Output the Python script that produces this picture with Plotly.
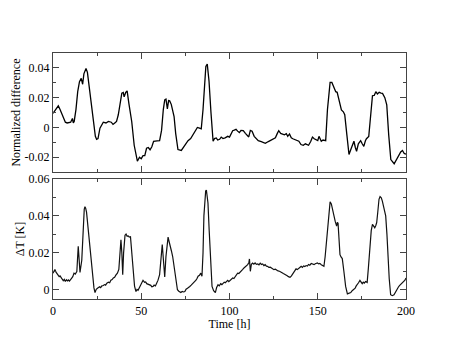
import plotly.graph_objects as go
from plotly.subplots import make_subplots

# Readings (time [h], value) taken off the original figure
top_readings = [
    (0, 0.0095), (1, 0.011), (2, 0.013), (3, 0.0145), (4, 0.012), (5, 0.009), (6, 0.006),
    (7, 0.0035), (8, 0.003), (9, 0.0035), (10, 0.0035), (11, 0.006), (11.5, 0.003), (12, 0.004),
    (13, 0.012), (14, 0.024), (15, 0.0307), (16, 0.033), (16.8, 0.029), (17.5, 0.036),
    (18.7, 0.0396), (19.5, 0.037), (21, 0.023), (22, 0.012), (22.9, 0.004), (24, -0.006),
    (24.7, -0.008), (25.5, -0.0075), (26.6, -0.0005), (28.5, 0.0035), (30, 0.003), (31.4, 0.004),
    (33, 0.0035), (34, 0.002), (35, 0.003), (36, 0.004), (37, 0.0085), (38, 0.016), (39, 0.023),
    (39.8, 0.0235), (40.3, 0.0205), (41.2, 0.0235), (42, 0.0245), (43, 0.016), (44.6, 0.004),
    (46, -0.012), (47.8, -0.0227), (49, -0.020), (50, -0.021), (51, -0.019), (52, -0.019),
    (53, -0.014), (54, -0.0135), (55, -0.015), (56, -0.013), (57, -0.0093), (58, -0.009),
    (59, -0.009), (60.4, -0.0089), (61.5, -0.002), (62.5, 0.012), (63.3, 0.0185), (64, 0.019),
    (64.8, 0.0125), (65.5, 0.018), (66.1, 0.0178), (67, 0.0155), (68.6, 0.0073), (69.5, -0.004),
    (70.8, -0.0149), (72.7, -0.0155), (74, -0.013), (75, -0.011), (76.5, -0.0089), (78, -0.0075),
    (79.3, -0.0049), (80.5, -0.002), (81.8, 0.0), (83, -0.0005), (84, -0.001), (85, 0.012),
    (86, 0.0285), (86.6, 0.041), (87.4, 0.0425), (88.4, 0.031), (89.5, 0.010), (90.7, -0.0093),
    (91.5, -0.0075), (92.5, -0.0071), (93.3, -0.0085), (94.4, -0.008), (95.3, -0.0065),
    (96.3, -0.0075), (97.5, -0.007), (99, -0.006), (100, -0.0065), (101.8, -0.0022),
    (102.7, -0.0018), (103.7, -0.0013), (104.6, -0.0025), (105.6, -0.0035), (106.5, -0.002),
    (107.8, -0.0022), (109, -0.004), (110.9, -0.0064), (111.8, -0.002), (112.8, -0.0026),
    (114, -0.006), (115, -0.0075), (116.3, -0.0089), (118, -0.0095), (120.3, -0.0107),
    (122, -0.0095), (124.5, -0.0076), (126, -0.007), (127.1, -0.004), (127.9, -0.0022),
    (129, -0.004), (130, -0.0045), (131.1, -0.005), (132.2, -0.0042), (133, -0.006),
    (134, -0.0044), (135, -0.007), (135.9, -0.0076), (137.5, -0.0085), (139.3, -0.0093),
    (140.5, -0.0115), (141.8, -0.012), (143, -0.011), (144.8, -0.012), (146, -0.0095),
    (147, -0.0065), (148, -0.0076), (149, -0.0082), (150, -0.0089), (150.7, -0.006),
    (151.5, -0.0085), (152, -0.0093), (153, -0.0085), (154.5, -0.0089), (155.5, 0.012),
    (157, 0.0302), (158, 0.0302), (159, 0.027), (160.2, 0.024), (161, 0.0236), (162, 0.018),
    (163.4, 0.0118), (164.5, 0.0105), (165.3, 0.0085), (166.5, -0.005), (167.7, -0.0182),
    (169, -0.014), (170.5, -0.0093), (171.3, -0.0135), (172, -0.016), (173, -0.011),
    (174.3, -0.0089), (175.2, -0.011), (176.1, -0.0127), (177, -0.009), (177.6, -0.0076),
    (178.9, -0.006), (180, 0.008), (181, 0.0213), (182, 0.0215), (182.9, 0.024), (183.8, 0.0225),
    (184.8, 0.0236), (185.8, 0.023), (186.7, 0.0229), (188, 0.020), (189.1, 0.0151),
    (190.2, -0.005), (191.4, -0.0216), (193.3, -0.0244), (194.5, -0.022), (196.1, -0.0182),
    (197, -0.0165), (198, -0.0155), (199, -0.0175), (200, -0.018),
]

bottom_readings = [
    (0, 0.009), (0.5, 0.0098), (1.1, 0.011), (1.7, 0.0095), (2.3, 0.0088), (3, 0.0082),
    (3.5, 0.0071), (4, 0.0075), (4.6, 0.0062), (5.2, 0.0058), (5.8, 0.0049), (6.4, 0.0056),
    (7, 0.0045), (7.6, 0.0054), (8.2, 0.0048), (8.7, 0.0053), (9.3, 0.0047), (9.9, 0.0058),
    (10.5, 0.0062), (11.2, 0.0071), (11.9, 0.009), (12.6, 0.0085), (13.5, 0.0098), (14.3, 0.0236),
    (14.8, 0.018), (15.3, 0.0094), (16.3, 0.016), (17.2, 0.038), (17.7, 0.0435), (18.1, 0.045),
    (18.5, 0.0442), (19, 0.042), (19.8, 0.034), (20.6, 0.0254), (21.5, 0.016), (22.5, 0.0073),
    (23.2, 0.001), (23.8, -0.0015), (24.5, 0.0002), (25.2, 0.0008), (25.7, 0.001), (26.4, 0.0016),
    (27, 0.0012), (27.7, 0.0021), (28.5, 0.0023), (29.2, 0.0028), (29.8, 0.0025), (30.5, 0.0036),
    (31.4, 0.0041), (32.1, 0.0038), (32.8, 0.0052), (33.5, 0.0055), (34.2, 0.0064),
    (34.9, 0.0068), (35.6, 0.0079), (36.5, 0.009), (37.3, 0.011), (37.9, 0.018), (38.5, 0.027),
    (39, 0.02), (39.5, 0.0082), (40, 0.02), (40.8, 0.0295), (41.4, 0.0302), (42, 0.029),
    (42.6, 0.0292), (43.2, 0.0285), (43.9, 0.0287), (44.6, 0.02), (45.5, 0.0073), (46.2, 0.002),
    (47, -0.001), (47.6, 0.0002), (48.2, -0.0003), (48.9, 0.001), (49.5, 0.0018), (50.2, 0.0029),
    (51, 0.0051), (51.9, 0.004), (52.5, 0.0042), (53.1, 0.0033), (53.8, 0.0031), (54.7, 0.0027),
    (55.4, 0.0024), (56, 0.0016), (56.7, 0.0018), (57.3, 0.0025), (58, 0.0021), (58.6, 0.0033),
    (59.5, 0.0052), (60.4, 0.0082), (61.2, 0.015), (61.9, 0.0245), (62.5, 0.017), (63.3, 0.0069),
    (64, 0.018), (64.6, 0.026), (65.2, 0.0285), (65.8, 0.026), (66.5, 0.024), (67.1, 0.021),
    (67.8, 0.018), (68.4, 0.0143), (69.5, 0.006), (70.5, 0.0), (71.3, -0.0008), (72, -0.0012),
    (72.4, -0.0015), (73.2, -0.0009), (74, -0.0012), (74.7, -0.001), (75.4, 0.0003),
    (76.2, 0.0008), (77, 0.0012), (77.5, 0.0018), (78.3, 0.0025), (79, 0.0031), (79.7, 0.0036),
    (80.3, 0.0045), (81, 0.0052), (81.6, 0.0061), (82.2, 0.0073), (83, 0.0078), (83.7, 0.009),
    (84.4, 0.0073), (85, 0.02), (85.5, 0.04), (86, 0.051), (86.5, 0.0535), (86.9, 0.054),
    (87.3, 0.049), (87.8, 0.047), (88.5, 0.032), (89.2, 0.015), (90.1, 0.0018), (91, -0.0005),
    (92, -0.0015), (92.7, 0.0012), (93.5, 0.0027), (94.2, 0.0021), (95, 0.0033), (95.7, 0.0028),
    (96.3, 0.0036), (97, 0.0041), (97.6, 0.0038), (98.2, 0.0045), (99, 0.0051), (99.6, 0.0044),
    (100.3, 0.0052), (101, 0.0058), (101.8, 0.0064), (102.5, 0.0061), (103.2, 0.0073),
    (103.9, 0.0079), (104.6, 0.009), (105.3, 0.0088), (106, 0.0097), (106.7, 0.0102),
    (107.5, 0.011), (108.2, 0.0118), (108.9, 0.0123), (109.6, 0.0129), (110.3, 0.0136),
    (111, 0.0148), (111.3, 0.0167), (111.8, 0.01), (112.4, 0.0138), (113.1, 0.0145),
    (113.8, 0.0139), (114.5, 0.0146), (115.2, 0.0138), (116, 0.014), (116.7, 0.0135),
    (117.4, 0.0144), (118.1, 0.0137), (118.8, 0.014), (119.5, 0.0131), (120.2, 0.0136),
    (120.9, 0.0128), (121.6, 0.0127), (122.3, 0.0121), (123.1, 0.0122), (123.8, 0.0116),
    (124.5, 0.0113), (125.2, 0.0109), (126, 0.0111), (126.8, 0.0104), (127.5, 0.0102),
    (128.3, 0.01), (129, 0.0094), (129.8, 0.0092), (130.5, 0.0088), (131.2, 0.0085),
    (132, 0.0082), (132.7, 0.0076), (133.4, 0.0071), (134.3, 0.0067), (135.1, 0.0075),
    (135.9, 0.0087), (136.7, 0.0098), (137.7, 0.0113), (138.4, 0.0109), (139.2, 0.0118),
    (140, 0.0122), (140.6, 0.0127), (141.3, 0.0121), (142, 0.0129), (142.7, 0.0126),
    (143.4, 0.0131), (144.1, 0.0128), (144.8, 0.0137), (145.5, 0.0133), (146.3, 0.0142),
    (147, 0.0138), (147.9, 0.0136), (148.6, 0.0141), (149.3, 0.0145), (149.8, 0.0145),
    (150.5, 0.014), (151.2, 0.0143), (152, 0.0136), (152.8, 0.0131), (153.5, 0.0127),
    (154.2, 0.018), (155.4, 0.0318), (156.2, 0.042), (157, 0.0476), (157.7, 0.0465),
    (158.4, 0.043), (159.2, 0.0393), (159.9, 0.037), (160.7, 0.0345), (161.1, 0.0365),
    (161.5, 0.036), (162, 0.028), (162.6, 0.019), (163.2, 0.0178), (163.9, 0.0169), (164.8, 0.01),
    (165.8, 0.0018), (166.8, -0.0022), (167.5, -0.0018), (168.1, -0.0019), (168.7, -0.0015),
    (169.5, -0.0005), (170.5, 0.0003), (171.2, 0.0009), (171.8, 0.0021), (172.4, 0.0027),
    (173.1, 0.0038), (173.9, 0.0051), (174.6, 0.004), (175.2, 0.0033), (175.8, 0.0041),
    (176.4, 0.0036), (177.1, 0.0045), (178, 0.004), (178.7, 0.012), (179.6, 0.0254),
    (180.3, 0.032), (181, 0.0354), (181.6, 0.0342), (182.3, 0.0336), (182.9, 0.0348),
    (183.4, 0.0364), (184, 0.042), (184.7, 0.049), (185.3, 0.0505), (186, 0.0498), (186.6, 0.048),
    (187.2, 0.0455), (187.9, 0.043), (188.5, 0.04), (189.2, 0.03), (189.8, 0.0169), (190.5, 0.006),
    (191.3, -0.0027), (192.2, -0.0032), (193.2, -0.0027), (194.1, -0.0012), (195, 0.0009),
    (195.7, 0.0015), (196.3, 0.0022), (196.9, 0.0027), (197.6, 0.0034), (198.2, 0.0038),
    (198.8, 0.0045), (199.4, 0.0052), (200, 0.0064),
]

top_yticks = [-0.02, 0, 0.02, 0.04]
top_ytext = ['-0.02', '0', '0.02', '0.04']
bot_yticks = [0, 0.02, 0.04, 0.06]
bot_ytext = ['0', '0.02', '0.04', '0.06']
x_ticks = [0, 50, 100, 150, 200]

t_top, v_top = zip(*top_readings)
t_bot, v_bot = zip(*bottom_readings)

font_family = 'Liberation Serif, Times New Roman, serif'

fig = make_subplots(rows=2, cols=1, shared_xaxes=False, vertical_spacing=0.028)

fig.add_trace(go.Scatter(x=t_top, y=v_top, mode='lines',
                         line=dict(color='black', width=1.3), showlegend=False), row=1, col=1)
fig.add_trace(go.Scatter(x=t_bot, y=v_bot, mode='lines',
                         line=dict(color='#111', width=1.2), showlegend=False), row=2, col=1)

axis_common = dict(
    showline=True, linecolor='#444', linewidth=1.2, mirror='allticks',
    ticks='inside', ticklen=6, tickcolor='#444', tickwidth=1,
    showgrid=False, zeroline=False, automargin=False,
    tickfont=dict(family=font_family, size=12, color='black'),
)

fig.update_xaxes(**axis_common, range=[0, 200], tickmode='array', tickvals=x_ticks,
                 minor=dict(ticks='inside', ticklen=3, dtick=25, tick0=0, tickcolor='#444', showgrid=False))
fig.update_xaxes(showticklabels=False, row=1, col=1)
fig.update_xaxes(title=dict(text='Time [h]', font=dict(family=font_family, size=12, color='black'), standoff=0),
                 row=2, col=1)

fig.update_yaxes(**axis_common,
                 minor=dict(ticks='inside', ticklen=3, dtick=0.01, tick0=0, tickcolor='#444', showgrid=False))
fig.update_yaxes(range=[-0.03, 0.05], tickmode='array', tickvals=top_yticks, ticktext=top_ytext,
                 title=dict(text='Normalized difference', font=dict(family=font_family, size=12, color='black'),
                            standoff=1),
                 row=1, col=1)
fig.update_yaxes(range=[-0.005, 0.06], tickmode='array', tickvals=bot_yticks, ticktext=bot_ytext,
                 title=dict(text='ΔT [K]', font=dict(family=font_family, size=12, color='black'), standoff=1),
                 row=2, col=1)

# page body adds an 8px offset, so the margins are shifted to compensate
fig.update_layout(
    width=457, height=353,
    margin=dict(l=45, r=59, t=45, b=62, autoexpand=False),
    plot_bgcolor='white', paper_bgcolor='white',
    font=dict(family=font_family, size=12, color='black'),
)
fig.update_yaxes(domain=[0.516, 1.0], row=1, col=1)
fig.update_yaxes(domain=[0.0, 0.488], row=2, col=1)

fig.write_html("out.html")
